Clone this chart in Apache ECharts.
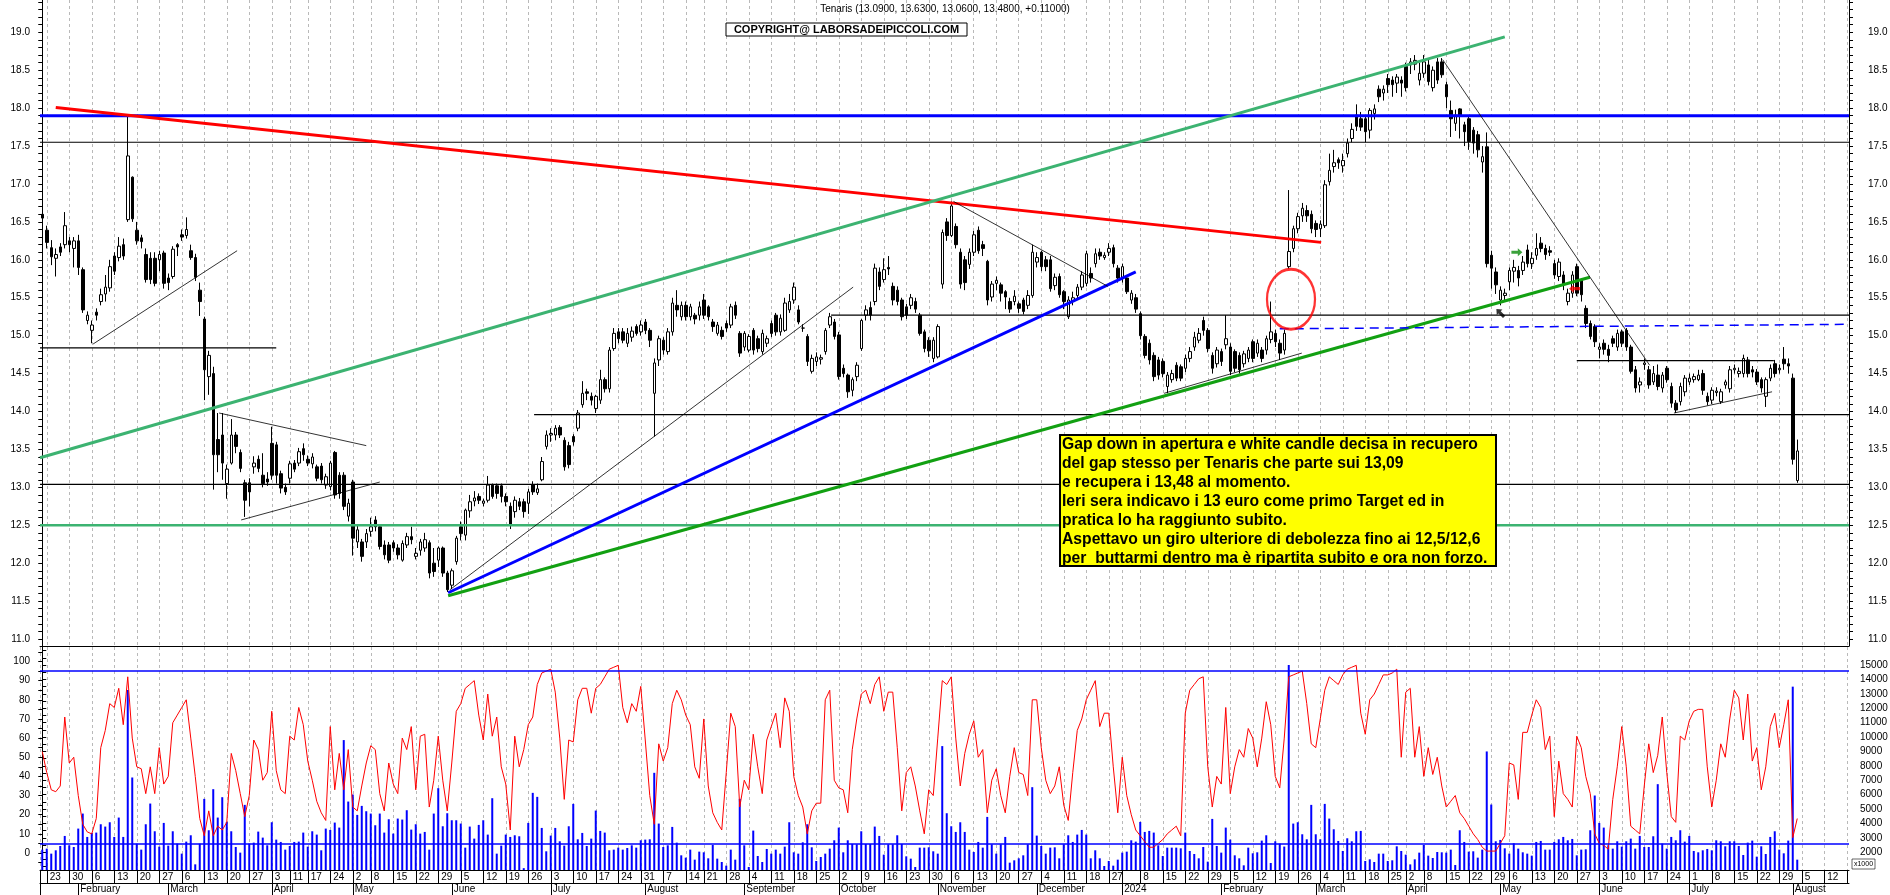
<!DOCTYPE html>
<html><head><meta charset="utf-8">
<script src="https://cdn.jsdelivr.net/npm/echarts@6/dist/echarts.min.js"></script>
<style>html,body{margin:0;padding:0;background:#fff}#c{width:1890px;height:895px}</style>
</head><body><div id="c"></div><script>
// ---------- calendar (trading days, Borsa Italiana) ----------
const firstDay = [2023, 0, 20], lastDay = [2024, 7, 19];
const holidays = ['2023-04-07','2023-04-10','2023-05-01','2023-08-15','2023-12-25','2023-12-26','2024-01-01','2024-03-29','2024-04-01','2024-05-01'];
const monthNames = ['2024','February','March','April','May','June','July','August','September','October','November','December'];
const hiddenDayLabels = ['2024-01-02','2024-08-19'];

// ---------- price candles [open, close, low, high] ----------
const candles = [
[16.60,16.55,16.32,16.64],[16.39,16.23,16.15,16.45],[16.16,16.04,15.93,16.26],[16.02,16.07,15.78,16.15],[16.17,16.10,16.05,16.22],[16.20,16.45,16.15,16.63],[16.25,16.20,16.10,16.30],[16.15,16.25,15.90,16.30],[16.25,15.90,15.80,16.33],[15.87,15.34,15.30,15.90],
[15.20,15.27,15.15,15.32],[15.07,15.14,14.90,15.20],[15.31,15.27,15.20,15.36],[15.45,15.54,15.40,15.62],[15.55,15.64,15.45,15.80],[15.63,15.91,15.58,16.00],[16.05,15.85,15.80,16.10],[16.03,16.18,15.98,16.30],[16.20,16.05,16.00,16.28],[16.53,17.37,16.50,17.90],
[17.09,16.54,16.50,17.10],[16.39,16.25,16.20,16.50],[16.29,16.24,16.15,16.33],[16.07,15.74,15.70,16.15],[16.02,15.74,15.68,16.10],[16.02,15.69,15.65,16.10],[16.00,16.07,15.85,16.12],[16.09,15.69,15.62,16.12],[15.76,15.70,15.60,15.82],[15.78,16.14,15.75,16.18],
[16.20,16.17,16.05,16.22],[16.33,16.30,16.25,16.40],[16.32,16.40,16.28,16.56],[16.12,16.03,16.00,16.20],[16.03,15.77,15.72,16.08],[15.60,15.45,15.26,15.70],[15.22,14.55,14.15,15.25],[14.46,14.74,14.22,14.80],[14.50,13.43,12.97,14.59],[13.63,13.43,13.20,13.98],
[13.69,13.32,13.10,13.98],[13.05,13.24,12.85,13.30],[13.32,13.69,13.30,13.90],[13.69,13.54,13.45,13.73],[13.46,13.25,13.20,13.50],[13.06,12.83,12.61,13.10],[13.06,12.94,12.75,13.12],[13.27,13.32,13.18,13.41],[13.37,13.25,13.20,13.42],[13.16,13.05,13.00,13.45],
[13.11,13.07,13.02,13.20],[13.58,13.16,13.10,13.80],[13.56,13.16,13.05,13.60],[13.18,12.99,12.92,13.22],[13.00,12.94,12.90,13.05],[13.12,13.31,13.05,13.35],[13.32,13.24,13.20,13.36],[13.32,13.47,13.28,13.52],[13.51,13.43,13.35,13.58],[13.37,13.32,13.28,13.42],
[13.31,13.40,13.25,13.45],[13.27,13.12,13.08,13.30],[13.28,13.10,13.05,13.32],[13.03,13.14,12.98,13.18],[13.01,13.32,12.96,13.35],[13.46,12.90,12.85,13.48],[13.16,12.92,12.85,13.20],[13.16,12.75,12.70,13.20],[12.62,12.79,12.55,12.85],[13.07,12.33,12.10,13.10],
[12.28,12.44,12.20,12.50],[12.28,12.09,12.02,12.32],[12.28,12.39,12.20,12.45],[12.42,12.48,12.35,12.60],[12.57,12.48,12.42,12.62],[12.48,12.22,12.18,12.50],[12.24,12.11,12.05,12.30],[12.24,12.04,12.00,12.28],[12.27,12.20,12.15,12.30],[12.20,12.11,12.05,12.25],
[12.04,12.26,12.02,12.30],[12.24,12.35,12.20,12.40],[12.35,12.31,12.25,12.48],[12.09,12.13,12.05,12.20],[12.17,12.28,12.10,12.32],[12.20,12.31,12.15,12.40],[12.27,11.87,11.80,12.30],[12.00,11.89,11.82,12.20],[12.04,12.20,11.95,12.22],[12.20,11.87,11.82,12.22],
[11.87,11.65,11.62,11.90],[11.71,11.90,11.66,11.93],[12.02,12.33,11.98,12.36],[12.48,12.39,12.30,12.55],[12.37,12.70,12.30,12.72],[12.69,12.81,12.60,12.90],[12.82,12.86,12.75,12.95],[12.88,12.83,12.78,12.92],[12.79,12.82,12.75,12.85],[12.83,13.03,12.80,13.15],
[13.03,12.88,12.85,13.05],[13.02,12.92,12.85,13.05],[13.02,12.88,12.80,13.05],[12.88,12.81,12.75,12.92],[12.75,12.50,12.45,12.80],[12.68,12.83,12.60,12.88],[12.81,12.75,12.70,12.86],[12.81,12.68,12.60,12.85],[12.79,12.94,12.65,12.98],[13.03,12.94,12.90,13.08],
[12.93,12.98,12.90,13.05],[13.10,13.34,13.08,13.40],[13.54,13.69,13.50,13.75],[13.69,13.71,13.60,13.78],[13.69,13.78,13.62,13.82],[13.79,13.69,13.65,13.82],[13.62,13.27,13.22,13.66],[13.55,13.30,13.25,13.60],[13.67,13.60,13.55,13.70],[13.78,13.98,13.74,14.02],
[14.09,14.24,14.05,14.40],[14.26,14.24,14.15,14.30],[14.20,14.15,14.08,14.25],[14.04,14.20,13.98,14.22],[14.15,14.42,14.10,14.55],[14.42,14.30,14.25,14.45],[14.30,14.81,14.25,14.85],[14.83,15.03,14.80,15.10],[15.05,14.96,14.90,15.10],[15.05,14.94,14.90,15.10],
[14.90,15.03,14.85,15.10],[14.98,15.06,14.92,15.12],[15.12,15.03,15.00,15.15],[15.05,15.14,15.00,15.20],[15.18,15.07,15.02,15.22],[15.07,14.94,14.85,15.10],[14.24,14.64,13.67,14.70],[14.68,14.96,14.60,15.00],[14.94,14.81,14.75,14.98],[14.79,15.05,14.75,15.10],
[15.05,15.43,15.00,15.50],[15.40,15.34,15.25,15.60],[15.25,15.40,15.20,15.45],[15.40,15.25,15.20,15.45],[15.25,15.38,15.20,15.42],[15.27,15.22,15.15,15.30],[15.27,15.38,15.20,15.45],[15.47,15.27,15.22,15.55],[15.38,15.25,15.20,15.40],[15.18,15.12,15.05,15.22],
[15.03,15.14,15.00,15.18],[15.07,14.99,14.95,15.12],[15.16,15.10,15.05,15.20],[15.14,15.38,15.10,15.42],[15.40,15.27,15.22,15.45],[15.03,14.77,14.72,15.06],[14.85,15.03,14.80,15.06],[14.81,14.99,14.78,15.02],[15.07,14.81,14.75,15.10],[14.96,14.83,14.78,15.00],
[14.79,15.03,14.75,15.08],[14.90,14.96,14.85,15.00],[15.16,15.03,14.98,15.20],[15.27,15.05,15.00,15.30],[15.05,15.23,15.00,15.28],[15.07,15.43,15.05,15.50],[15.34,15.45,15.30,15.55],[15.47,15.64,15.42,15.70],[15.34,15.18,15.15,15.40],[15.10,15.10,15.05,15.15],
[14.99,14.66,14.60,15.02],[14.53,14.70,14.50,14.75],[14.66,14.72,14.60,14.78],[14.69,14.71,14.62,14.75],[14.79,15.07,14.75,15.10],[15.14,15.25,15.10,15.30],[15.18,14.99,14.95,15.22],[15.01,14.46,14.42,15.05],[14.57,14.50,14.45,14.62],[14.48,14.26,14.18,14.50],
[14.28,14.42,14.20,14.45],[14.46,14.61,14.40,14.65],[14.83,15.20,14.80,15.22],[15.27,15.34,15.20,15.40],[15.37,15.27,15.20,15.45],[15.45,15.89,15.40,15.95],[15.84,15.65,15.60,15.90],[15.74,15.87,15.70,16.02],[15.90,15.88,15.80,16.05],[15.65,15.47,15.40,15.70],
[15.60,15.45,15.40,15.65],[15.47,15.25,15.20,15.50],[15.38,15.27,15.22,15.42],[15.40,15.50,15.35,15.55],[15.45,15.35,15.30,15.50],[15.27,15.03,15.00,15.30],[15.05,14.83,14.78,15.08],[14.94,14.80,14.72,14.98],[14.70,14.94,14.65,14.98],[14.72,15.12,14.70,15.15],
[15.68,16.36,15.62,16.40],[16.50,16.32,16.25,16.55],[16.32,16.71,16.30,16.77],[16.44,16.20,16.15,16.48],[16.10,15.68,15.62,16.15],[16.00,15.70,15.60,16.05],[15.94,16.10,15.88,16.15],[16.10,16.33,16.05,16.38],[16.39,16.12,16.08,16.44],[16.20,16.15,16.05,16.25],
[15.98,15.47,15.40,16.00],[15.51,15.68,15.45,15.72],[15.69,15.73,15.60,15.78],[15.67,15.56,15.45,15.70],[15.58,15.51,15.35,15.60],[15.45,15.35,15.30,15.50],[15.45,15.52,15.40,15.60],[15.42,15.36,15.30,15.45],[15.47,15.32,15.28,15.50],[15.40,15.53,15.35,15.60],
[15.53,16.10,15.50,16.20],[15.97,16.03,15.90,16.10],[16.10,15.91,15.85,16.12],[16.00,15.91,15.85,16.05],[16.00,15.62,15.58,16.05],[15.66,15.77,15.60,15.82],[15.78,15.54,15.50,15.82],[15.58,15.45,15.35,15.60],[15.25,15.47,15.22,15.52],[15.45,15.50,15.40,15.58],
[15.53,15.64,15.48,15.68],[15.64,15.80,15.60,15.85],[15.69,16.08,15.65,16.12],[15.82,15.76,15.70,15.90],[15.95,16.08,15.90,16.15],[16.10,16.05,16.00,16.15],[16.03,16.06,16.00,16.10],[16.10,16.15,16.05,16.22],[16.16,15.95,15.90,16.20],[15.89,15.76,15.70,15.93],
[15.76,15.91,15.70,15.95],[15.76,15.58,15.55,15.80],[15.47,15.56,15.42,15.60],[15.50,15.35,15.30,15.55],[15.29,15.00,14.95,15.32],[14.99,14.74,14.70,15.02],[14.90,14.68,14.62,14.95],[14.74,14.46,14.40,14.78],[14.68,14.48,14.42,14.72],[14.66,14.50,14.45,14.70],
[14.33,14.48,14.24,14.52],[14.42,14.50,14.38,14.55],[14.61,14.44,14.40,14.65],[14.59,14.44,14.40,14.62],[14.57,14.70,14.52,14.75],[14.70,14.79,14.65,14.85],[14.85,14.98,14.80,15.05],[14.94,15.03,14.90,15.10],[15.20,15.07,15.00,15.25],[15.07,14.83,14.78,15.10],
[14.74,14.57,14.50,14.78],[14.63,14.81,14.58,14.85],[14.79,14.66,14.60,14.83],[14.88,14.96,14.82,15.27],[14.85,14.53,14.48,14.90],[14.79,14.57,14.52,14.82],[14.74,14.55,14.50,14.78],[14.63,14.76,14.58,14.80],[14.70,14.81,14.65,14.85],[14.92,14.70,14.65,14.95],
[14.77,14.90,14.72,14.95],[14.81,14.70,14.65,14.85],[14.81,14.96,14.75,15.00],[14.95,15.05,14.90,15.45],[15.03,14.92,14.85,15.08],[14.90,14.77,14.68,14.95],[14.81,15.03,14.75,15.08],[15.91,16.11,15.88,16.92],[16.15,16.41,16.10,16.45],[16.41,16.57,16.35,16.62],
[16.58,16.68,16.50,16.75],[16.65,16.58,16.50,16.72],[16.60,16.41,16.35,16.65],[16.48,16.40,16.30,16.52],[16.41,16.47,16.30,16.52],[16.45,16.99,16.42,17.05],[17.03,17.18,16.98,17.40],[17.23,17.28,17.15,17.45],[17.32,17.28,17.20,17.35],[17.24,17.31,17.15,17.40],
[17.40,17.54,17.35,17.60],[17.60,17.72,17.55,17.80],[17.91,17.76,17.70,18.05],[17.86,17.75,17.70,17.95],[17.86,17.69,17.55,17.90],[17.71,17.97,17.60,18.00],[17.93,17.99,17.85,18.05],[18.25,18.15,18.08,18.30],[18.20,18.25,18.10,18.30],[18.39,18.31,18.20,18.45],
[18.37,18.31,18.15,18.42],[18.33,18.41,18.20,18.45],[18.37,18.33,18.15,18.42],[18.55,18.27,18.22,18.60],[18.57,18.61,18.45,18.66],[18.58,18.63,18.50,18.70],[18.37,18.46,18.30,18.60],[18.46,18.61,18.40,18.70],[18.57,18.35,18.30,18.66],[18.27,18.50,18.22,18.55],
[18.61,18.37,18.32,18.66],[18.61,18.44,18.40,18.66],[18.31,18.15,18.00,18.35],[17.97,17.86,17.62,18.10],[17.80,17.91,17.70,17.98],[17.99,17.89,17.60,18.00],[17.78,17.69,17.50,17.82],[17.86,17.56,17.45,17.90],[17.71,17.54,17.40,17.75],[17.65,17.45,17.35,17.70],
[17.29,17.36,17.15,17.50],[17.49,15.95,15.90,17.68],[16.06,15.89,15.62,16.12],[15.84,15.67,15.55,15.90],[15.47,15.60,15.40,15.65],[15.53,15.56,15.45,15.62],[15.71,15.86,15.60,15.90],[15.85,15.90,15.70,16.00],[15.86,15.76,15.65,15.92],[15.86,15.97,15.80,16.05],
[16.13,15.95,15.90,16.20],[15.95,16.02,15.88,16.10],[16.06,16.15,16.00,16.35],[16.22,16.15,16.10,16.30],[16.15,16.07,16.00,16.20],[16.12,16.10,16.05,16.18],[15.95,15.80,15.75,16.00],[15.78,15.97,15.72,16.02],[15.80,15.67,15.60,15.85],[15.45,15.56,15.40,15.62],
[15.56,15.80,15.50,15.85],[15.91,15.56,15.52,15.95],[15.73,15.54,15.45,15.75],[15.36,15.16,15.10,15.40],[15.16,14.99,14.95,15.20],[15.12,14.92,14.85,15.15],[14.82,14.85,14.70,14.90],[14.90,14.82,14.75,14.95],[14.82,14.74,14.65,14.88],[14.96,14.90,14.85,15.00],
[14.85,15.03,14.80,15.08],[15.05,14.90,14.85,15.08],[15.07,14.85,14.80,15.10],[14.85,14.53,14.50,14.88],[14.55,14.31,14.25,14.60],[14.35,14.39,14.25,14.45],[14.62,14.64,14.55,14.70],[14.55,14.35,14.30,14.60],[14.39,14.50,14.35,14.60],[14.48,14.33,14.28,14.62],
[14.31,14.48,14.25,14.52],[14.57,14.42,14.38,14.60],[14.33,14.11,14.05,14.38],[14.11,14.02,13.98,14.15],[14.13,14.33,14.08,14.38],[14.26,14.44,14.20,14.48],[14.39,14.44,14.35,14.50],[14.42,14.46,14.38,14.50],[14.42,14.48,14.40,14.55],[14.50,14.28,14.22,14.55],
[14.20,14.13,14.08,14.25],[14.15,14.28,14.10,14.32],[14.25,14.27,14.20,14.32],[14.13,14.26,14.10,14.30],[14.35,14.39,14.30,14.42],[14.30,14.55,14.25,14.60],[14.55,14.57,14.50,14.62],[14.50,14.53,14.45,14.58],[14.50,14.70,14.45,14.75],[14.68,14.50,14.45,14.72],
[14.55,14.52,14.45,14.60],[14.52,14.39,14.35,14.56],[14.42,14.31,14.25,14.45],[14.20,14.42,14.06,14.45],[14.44,14.57,14.40,14.62],[14.63,14.50,14.45,14.68],[14.55,14.57,14.50,14.62],[14.69,14.63,14.55,14.85],[14.63,14.60,14.50,14.70],[14.44,13.37,13.30,14.50],[13.09,13.48,13.06,13.63]
];

// ---------- oscillator (0-100) ----------
const oscillator = [
53,42,33,32,35,71,47,50,30,15, 11,10,18,55,64,78,76,86,67,92, 60,45,44,31,45,31,55,36,40,68, 72,76,80,60,40,18,9,22,9,14,
12,16,52,43,31,19,30,59,54,38, 42,74,43,33,31,61,59,76,67,48, 38,27,21,17,66,33,52,33,54,24, 22,35,47,56,54,31,22,47,36,31,
60,54,66,33,61,62,24,38,61,38, 22,47,74,78,86,88,90,72,59,83, 61,71,45,36,12,61,45,54,67,71, 88,94,95,96,84,60,28,59,58,80,
86,86,73,86,88,92,96,97,98,76, 68,78,74,87,59,30,15,57,48,55, 78,85,80,72,67,45,39,70,35,21, 16,12,42,73,66,24,38,33,62,45,
31,59,66,73,55,81,74,40,30,24, 10,22,26,26,80,85,38,34,33,21, 54,70,83,85,78,88,92,74,84,84, 55,22,42,45,35,22,10,33,30,60,
90,88,92,60,35,52,62,69,50,54, 21,38,44,30,21,40,55,42,41,30, 80,80,55,38,31,35,45,25,17,42, 64,70,80,85,90,66,73,73,45,21,
50,30,20,12,9,6,3,3,5,7, 10,12,14,9,73,85,88,91,92,45, 24,40,36,76,31,45,54,50,65,60, 45,60,79,67,40,34,60,92,93,94,
95,78,57,55,70,85,92,90,88,93, 96,97,98,73,62,80,83,88,93,93, 94,96,50,84,86,50,66,40,55,41, 50,35,24,27,30,21,18,14,10,7,
3,1,1,1,5,9,47,46,28,63, 63,72,80,76,54,61,19,48,31,28, 24,61,55,40,31,10,5,4,2,28, 45,66,45,14,12,10,35,57,42,51,
71,42,19,16,61,59,69,74,75,75, 45,24,38,57,50,70,85,81,59,83, 48,55,33,45,66,73,55,67,80,8, 18
];

// ---------- volume (shares) ----------
const volume = [
2185,2255,1907,2139,2440,3136,2487,2371,3646,4689, 3067,3345,3368,3947,3785,4086,3067,4411,3067,13266, 7192,2603,2185,3947,5384,3460,2394,4040,2464,3460,
2603,1907,2742,3182,1165,2600,5709,3530,6381,4411, 5825,4109,3460,2371,1977,5292,2603,2672,3437,3020, 2487,4086,2881,2719,2185,2440,2719,2742,3368,2394,
3460,3229,2139,3646,3553,4063,3715,9789,5523,6010, 4596,5222,4851,4689,3878,4689,3368,4295,3298,4341, 4272,4921,3576,3947,3298,3414,2185,4689,6451,3808,
4712,4225,4225,3994,2324,3785,2950,3901,4225,3229, 5755,1907,2464,3229,3067,3182,3113,900,4040,6126, 5848,3692,2070,3159,3692,2765,2464,3808,5361,2904,
3345,2440,2950,4897,3484,3368,2139,2185,2324,2185, 2300,2487,2324,2834,2881,2904,7517,3994,2371,2487, 3762,2672,1791,1630,2185,1490,2046,2000,1583,2510,
1560,1328,1073,2185,1490,5709,2487,980,3507,1745, 1328,2232,1907,2185,1907,2394,4086,2000,1907,2695, 3947,2347,1397,1676,1907,2255,2834,3715,2000,2834,
2580,2556,3460,2580,2580,3785,3136,1838,2556,2556, 3182,2580,1721,1560,980,2324,2324,2347,2070,1907, 9371,4712,3808,3414,4086,3414,2185,2023,2719,2324,
4457,2556,1907,2556,3067,1282,1444,1583,1791,2556, 6520,3159,2440,1907,2324,2347,1583,2556,3182,2719, 3229,3553,3229,1583,2139,1583,1050,1397,1073,1490,
1977,2046,2834,2742,4109,3414,3484,3368,2487,1745, 2324,2324,2324,2278,3368,2093,1884,1583,2371,1351, 4318,2440,1977,3715,2881,1791,1583,1096,2324,1930,
2000,2811,3182,1258,2765,2603,2400,15000,3994,4086, 3252,2904,5292,3252,2904,5361,4341,3600,2788,2093, 2974,2765,3460,3484,1397,1513,1328,1907,1907,1397,
1444,2417,2093,1838,1162,1513,1977,2510,1768,1606, 2023,2000,1977,2185,1118,3530,2719,2046,2070,1630, 2185,9000,5315,2765,2858,2278,1907,2626,2255,2000,
1907,1768,2719,2788,2185,2185,2719,2904,3067,2834, 2927,1791,2185,2209,3530,5941,4040,3715,2487,2255, 2765,2394,2765,2950,2255,3136,2371,2371,3113,6729,
2603,2255,3067,2834,3530,2742,3136,2093,2000,2139, 2232,2139,2834,2765,2417,2765,2765,2440,1814,2672, 2811,1698,2417,1884,3067,3460,2185,1930,2811,13497, 1490
];

// ---------- axis tick values ----------
const priceLabels = [11,11.5,12,12.5,13,13.5,14,14.5,15,15.5,16,16.5,17,17.5,18,18.5,19];
const oscLabels = [0,10,20,30,40,50,60,70,80,90,100];
const volLabels = [2000,3000,4000,5000,6000,7000,8000,9000,10000,11000,12000,13000,14000,15000];

// ---------- annotations drawn on the chart (index, price) ----------
const lineRedResistance = [[3,18.01],[284.2,16.23]];
const lineBlue1790 = [[-0.5,17.90],[401.5,17.90]];
const lineBlack1755 = [[-0.5,17.55],[401.5,17.55]];
const lineGreenChannel = [[-0.5,13.39],[325,18.94]];
const lineGreen1250 = [[-0.5,12.50],[401.5,12.50]];
const lineBlack1304 = [[-0.5,13.04],[401.5,13.04]];
const lineBlack1396 = [[109.3,13.96],[401.5,13.96]];
const lineBlack1484 = [[-0.5,14.84],[52,14.84]];
const lineBlack1527 = [[175.3,15.27],[401.5,15.27]];
const lineBlack1467 = [[341,14.67],[384.8,14.67]];
const lineBlueDashed = [[275,15.09],[401.5,15.15]];
const lineBlueTrend = [[90.2,11.61],[243,15.84]];
const lineGreenTrend = [[90.2,11.57],[343.9,15.77]];
const thinLines = [
  [[11.3,14.89],[43.3,16.12]],
  [[39.3,13.98],[72,13.55]],
  [[44.2,12.57],[75,13.07]],
  [[90.6,11.65],[180.2,15.64]],
  [[202.5,16.77],[236.8,15.65]],
  [[249.3,14.24],[279.9,14.77]],
  [[311.2,18.64],[357.2,14.61]],
  [[362.6,13.98],[384.4,14.26]]
];
const circleMark = [[277.5,15.48]];
const greenArrow = [[327.7,16.10]];
const redArrow = [[340.5,15.62]];
const blackArrow = [[324,15.30]];

const titleText = 'Tenaris (13.0900, 13.6300, 13.0600, 13.4800, +0.11000)';
const copyrightText = 'COPYRIGHT@ LABORSADEIPICCOLI.COM';
const noteLines = [
 'Gap down in apertura e white candle decisa in recupero',
 'del gap stesso per Tenaris che parte sui 13,09',
 'e recupera i 13,48 al momento.',
 'Ieri sera indicavo i 13 euro come primo Target ed in',
 'pratica lo ha raggiunto subito.',
 'Aspettavo un giro ulteriore di debolezza fino ai 12,5/12,6',
 'per  buttarmi dentro ma è ripartita subito e ora non forzo.'
];

// ---------- build calendar ----------
const DAY = 86400000;
const dates = [];
for (let t = Date.UTC(...firstDay); t <= Date.UTC(...lastDay); t += DAY) {
  const d = new Date(t), wd = d.getUTCDay();
  if (wd === 0 || wd === 6) continue;
  const s = d.toISOString().slice(0,10);
  if (holidays.indexOf(s) >= 0) continue;
  dates.push(s);
}
const N = dates.length;
const weekKey = s => { const d = new Date(s + 'T00:00:00Z'); return d.getTime() - ((d.getUTCDay() + 6) % 7) * DAY; };
const weekTicks = [], dayLabelIdx = [], dayLabel = {};
const monthTicks = [], monthLabel = {};
for (let i = 1; i < N; i++) {
  if (weekKey(dates[i]) !== weekKey(dates[i-1])) {
    weekTicks.push(i);
    if (hiddenDayLabels.indexOf(dates[i]) < 0) { dayLabelIdx.push(i); dayLabel[i] = String(+dates[i].slice(8,10)); }
  }
  if (dates[i].slice(5,7) !== dates[i-1].slice(5,7)) {
    monthTicks.push(i);
    monthLabel[i] = monthNames[+dates[i].slice(5,7) - 1];
  }
}
const dayTicksWithEdge = [-0.5].concat(weekTicks);
const priceTicks = []; for (let k = 109; k <= 194; k++) priceTicks.push(k / 10);
const oscTicks = []; for (let k = -5; k <= 105; k += 5) oscTicks.push(k);
const volTicks = []; for (let k = 1000; k <= 16000; k += 500) volTicks.push(k);

const FONT = '"Liberation Sans", Arial, sans-serif';
const XMIN = -0.5, XMAX = N - 0.5;
const PMIN = 10.908, PMAX = 19.426;
const OMIN = -8.88, OMAX = 107.57;
const VMIN = 772, VMAX = 16249;

const gridDash = { color: '#b9b9b9', type: [3, 3], width: 1 };
const lbl = { color: '#000', fontSize: 10, fontFamily: FONT };

function seg(data, color, width, type, z) {
  return { type: 'line', xAxisIndex: 0, yAxisIndex: 0, data: data, symbol: 'none', showSymbol: false,
    lineStyle: { color: color, width: width, type: type || 'solid' }, silent: true, z: z || 5, animation: false };
}
const arrowPath = 'path://M0,3L7,3L7,0L12,5L7,10L7,7L0,7Z';

const series = [
  { type: 'candlestick', xAxisIndex: 0, yAxisIndex: 0, barWidth: 3,
    dimensions: ['idx','open','close','lowest','highest'],
    encode: { x: 'idx', y: ['open','close','lowest','highest'] },
    data: candles.map((c, i) => [i, c[0], c[1], c[2], c[3]]),
    itemStyle: { color: '#ffffff', color0: '#000000', borderColor: '#000000', borderColor0: '#000000', borderWidth: 1 },
    z: 3, silent: true },
  seg(lineBlack1755, '#000', 1.2),
  seg(lineBlack1304, '#000', 1.2),
  seg(lineBlack1396, '#000', 1.2),
  seg(lineBlack1484, '#000', 1.2),
  seg(lineBlack1527, '#000', 1.2),
  seg(lineBlack1467, '#000', 1.2),
  seg(lineGreen1250, '#3cb371', 2.5),
  seg(lineBlue1790, '#0000ff', 3),
  seg(lineRedResistance, '#ff0000', 3),
  seg(lineGreenChannel, '#3cb371', 3),
  seg(lineBlueTrend, '#0000ff', 3),
  seg(lineGreenTrend, '#12a012', 3),
  seg(lineBlueDashed, '#0000ff', 1.5, [9, 6])
].concat(thinLines.map(l => seg(l, '#000', 0.8)));

series.push({ type: 'scatter', xAxisIndex: 0, yAxisIndex: 0, data: circleMark, symbol: 'circle', symbolSize: [48, 60],
  itemStyle: { color: 'rgba(0,0,0,0)', borderColor: '#ff0000', borderWidth: 2.5 }, silent: true, z: 7 });
series.push({ type: 'scatter', xAxisIndex: 0, yAxisIndex: 0, data: greenArrow, symbol: arrowPath, symbolSize: [11, 8],
  itemStyle: { color: '#0a8a0a' }, silent: true, z: 7 });
series.push({ type: 'scatter', xAxisIndex: 0, yAxisIndex: 0, data: redArrow, symbol: arrowPath, symbolSize: [11, 8], symbolRotate: 180,
  itemStyle: { color: '#ff0000' }, silent: true, z: 7 });
series.push({ type: 'scatter', xAxisIndex: 0, yAxisIndex: 0, data: blackArrow, symbol: arrowPath, symbolSize: [11, 8], symbolRotate: 135,
  itemStyle: { color: '#000' }, silent: true, z: 7 });

series.push({ type: 'bar', xAxisIndex: 1, yAxisIndex: 3, barWidth: 2, data: volume.map((v, i) => [i, v]),
  itemStyle: { color: '#0000ff' }, silent: true, z: 2, clip: true });
series.push({ type: 'line', xAxisIndex: 1, yAxisIndex: 2, data: oscillator.map((v, i) => [i, v]), symbol: 'none', showSymbol: false,
  lineStyle: { color: '#ff0000', width: 1 }, silent: true, z: 4,
  markLine: { silent: true, symbol: ['none','none'], label: { show: false },
    lineStyle: { color: '#0000ff', width: 1.5, type: 'solid' }, data: [{ yAxis: 95 }, { yAxis: 5 }] } });

const option = {
  animation: false,
  backgroundColor: '#ffffff',
  grid: [
    { left: 40, right: 41, top: 0, height: 646, containLabel: false, outerBoundsMode: 'none' },
    { left: 40, right: 41, top: 647, height: 223, containLabel: false, outerBoundsMode: 'none' }
  ],
  xAxis: [
    { type: 'value', gridIndex: 0, min: XMIN, max: XMAX, scale: true,
      axisLine: { show: true, onZero: false, lineStyle: { color: '#000', width: 1 } },
      axisTick: { show: false, customValues: weekTicks },
      axisLabel: { show: false },
      splitLine: { show: true, lineStyle: gridDash } },
    { type: 'value', gridIndex: 1, min: XMIN, max: XMAX, scale: true, position: 'bottom',
      axisLine: { show: true, onZero: false, lineStyle: { color: '#000', width: 1 } },
      axisTick: { show: true, customValues: dayTicksWithEdge, length: 13, lineStyle: { color: '#000' } },
      axisLabel: Object.assign({ show: true, customValues: dayLabelIdx, formatter: v => dayLabel[Math.round(v)] || '',
        align: 'left', padding: [0, 0, 0, 3], margin: 2 }, lbl),
      splitLine: { show: true, lineStyle: gridDash } },
    { type: 'value', gridIndex: 1, min: XMIN, max: XMAX, scale: true, position: 'bottom', offset: 13,
      axisLine: { show: true, onZero: false, lineStyle: { color: '#000', width: 1 } },
      axisTick: { show: true, customValues: [-0.5].concat(monthTicks), length: 12, lineStyle: { color: '#000' } },
      axisLabel: Object.assign({ show: true, customValues: monthTicks, formatter: v => monthLabel[Math.round(v)] || '',
        align: 'left', padding: [0, 0, 0, 2], margin: 1 }, lbl),
      splitLine: { show: false } }
  ],
  yAxis: [
    { type: 'value', gridIndex: 0, position: 'left', min: PMIN, max: PMAX,
      axisLine: { show: true, lineStyle: { color: '#000' } },
      axisTick: { show: true, customValues: priceTicks, length: 4, lineStyle: { color: '#000' } },
      axisLabel: Object.assign({ customValues: priceLabels, formatter: v => v.toFixed(1), margin: 10 }, lbl),
      splitLine: { show: false } },
    { type: 'value', gridIndex: 0, position: 'right', min: PMIN, max: PMAX,
      axisLine: { show: true, lineStyle: { color: '#000' } },
      axisTick: { show: true, customValues: priceTicks, length: 4, lineStyle: { color: '#000' } },
      axisLabel: Object.assign({ customValues: priceLabels, formatter: v => v.toFixed(1), margin: 19 }, lbl),
      splitLine: { show: false } },
    { type: 'value', gridIndex: 1, position: 'left', min: OMIN, max: OMAX,
      axisLine: { show: true, lineStyle: { color: '#000' } },
      axisTick: { show: true, customValues: oscTicks, length: 4, lineStyle: { color: '#000' } },
      axisLabel: Object.assign({ customValues: oscLabels, formatter: v => String(v), margin: 10 }, lbl),
      splitLine: { show: false } },
    { type: 'value', gridIndex: 1, position: 'right', min: VMIN, max: VMAX,
      axisLine: { show: true, lineStyle: { color: '#000' } },
      axisTick: { show: true, customValues: volTicks, length: 4, lineStyle: { color: '#000' } },
      axisLabel: Object.assign({ customValues: volLabels, formatter: v => String(v), margin: 11 }, lbl),
      splitLine: { show: false } }
  ],
  series: series,
  graphic: [
    { type: 'text', x: 945, y: 9, z: 100, style: { text: titleText, font: '10px ' + FONT, fill: '#000', textAlign: 'center', textVerticalAlign: 'middle' } },
    { type: 'rect', z: 100, shape: { x: 726, y: 23, width: 241, height: 13 }, style: { fill: '#fff', stroke: '#000', lineWidth: 1 } },
    { type: 'text', x: 846.5, y: 30, z: 101, style: { text: copyrightText, font: 'bold 11px ' + FONT, fill: '#000', textAlign: 'center', textVerticalAlign: 'middle' } },
    { type: 'rect', z: 100, shape: { x: 1060, y: 435, width: 436, height: 131 }, style: { fill: '#ffff00', stroke: '#000', lineWidth: 2 } },
    ...noteLines.map((t, k) => ({ type: 'text', x: 1062, y: 444.5 + k * 19, z: 101,
      style: { text: t, font: 'bold 15.7px ' + FONT, fill: '#000', textAlign: 'left', textVerticalAlign: 'middle' } })),
    { type: 'rect', z: 100, shape: { x: 1852, y: 859, width: 23, height: 10 }, style: { fill: '#fff', stroke: '#000', lineWidth: 0.6 } },
    { type: 'text', x: 1863.5, y: 864, z: 101, style: { text: 'x1000', font: '7px ' + FONT, fill: '#000', textAlign: 'center', textVerticalAlign: 'middle' } }
  ]
};
const chart = echarts.init(document.getElementById('c'), null, { renderer: 'canvas' });
chart.setOption(option);
</script></body></html>
